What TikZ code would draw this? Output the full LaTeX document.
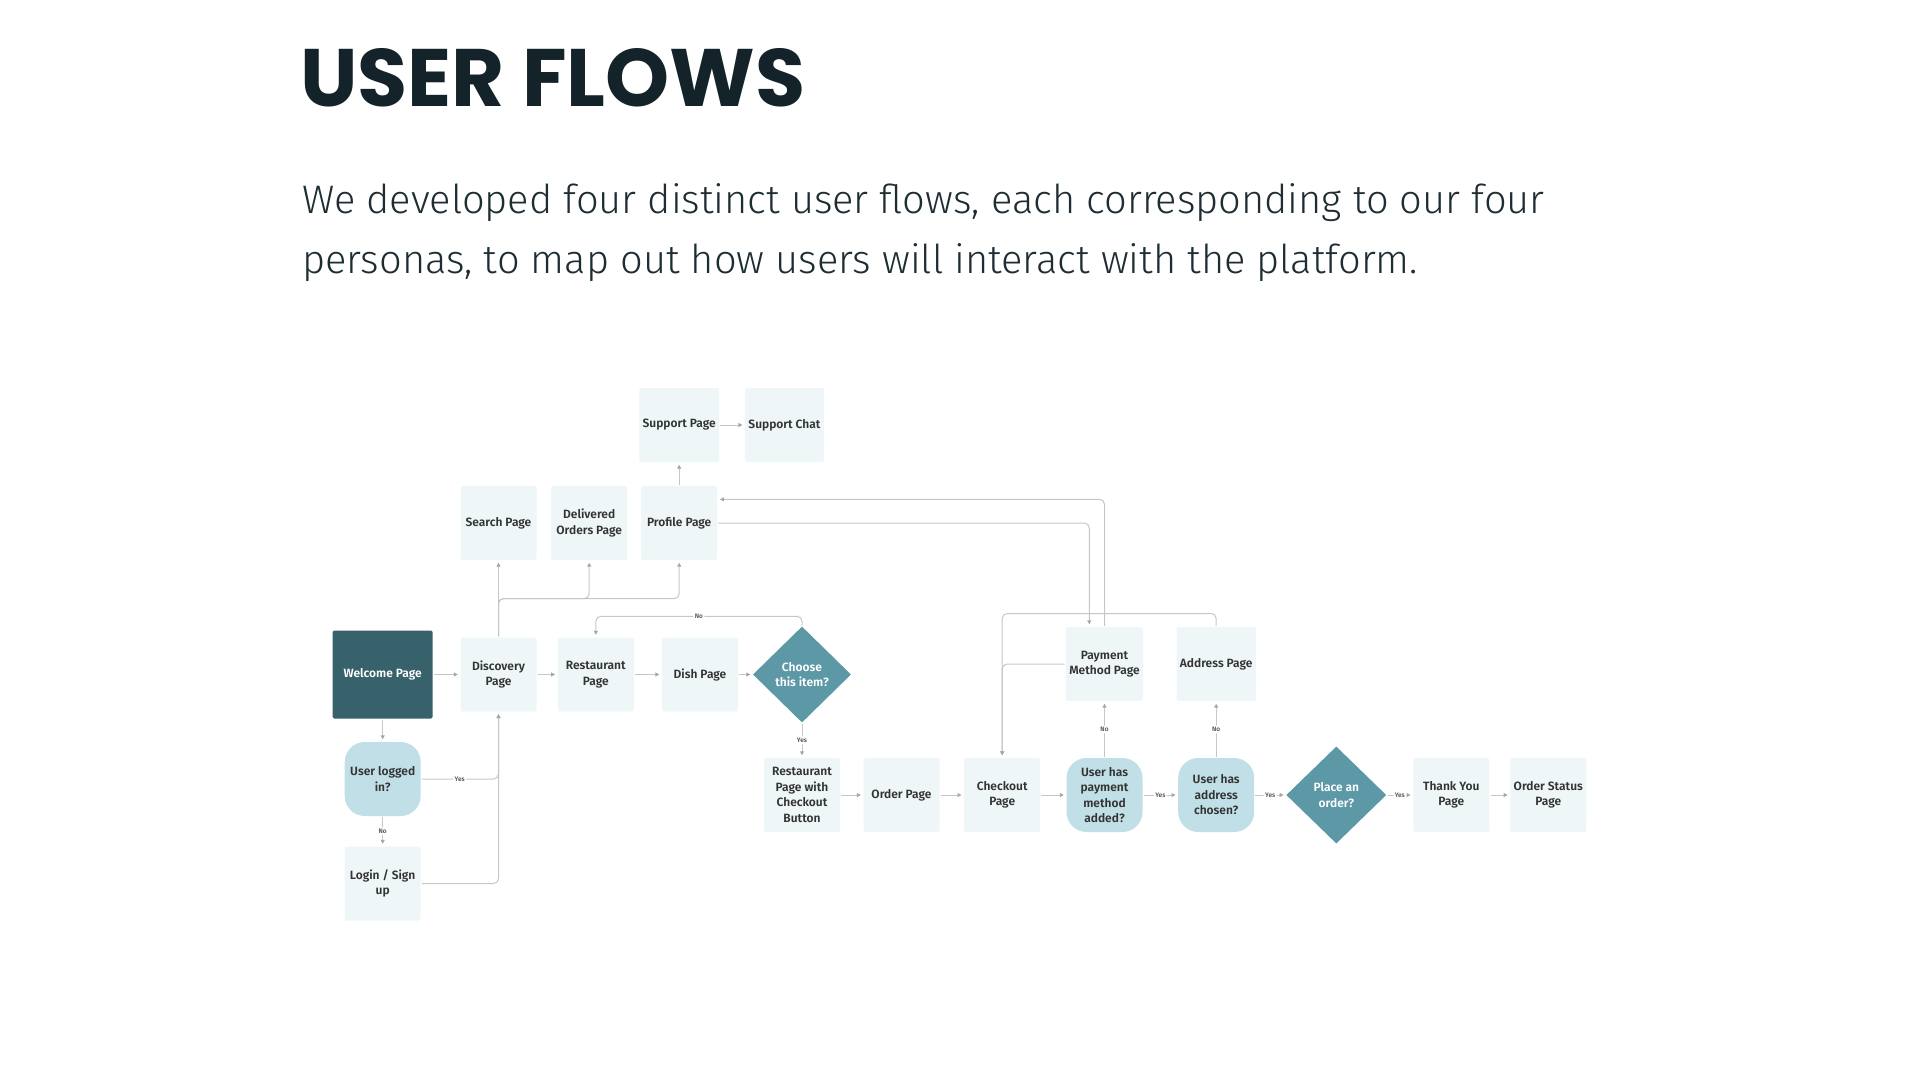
\documentclass[tikz,border=0pt]{standalone}
\usepackage{fontspec}
\setmainfont{Fira Sans}
\newfontfamily\titlefont{Poppins}
\newfontfamily\leadfont{Fira Sans Light}
\newfontfamily\boxfont{Fira Sans SemiBold}
\usetikzlibrary{shapes.geometric,arrows.meta,positioning}

\definecolor{ink}{HTML}{14232A}
\definecolor{leadink}{HTML}{1E2D33}
\definecolor{pagefill}{HTML}{EFF6F8}
\definecolor{startfill}{HTML}{37616B}
\definecolor{askfill}{HTML}{C1DFE6}
\definecolor{choicefill}{HTML}{5C98A6}
\definecolor{boxtext}{HTML}{333333}
\definecolor{wiregray}{HTML}{C6C6C6}
\definecolor{tipgray}{HTML}{A6A6A6}
\definecolor{labelgray}{HTML}{555555}

\begin{document}
\begin{tikzpicture}[x=1pt,y=-1pt,->,>={Triangle[length=4pt,width=4pt,color=tipgray]},
  shorten >=2.5pt,shorten <=1pt,on grid,node distance=100pt,
  page node/.style={rectangle,fill=pagefill,minimum width=76pt,minimum height=74pt,rounded corners=1.5pt,
    align=center,text=boxtext,font=\boxfont\fontsize{12}{15.5}\selectfont},
  start node/.style={page node,fill=startfill,text=white,minimum width=100pt,minimum height=88pt},
  ask node/.style={page node,fill=askfill,rounded corners=20pt},
  choice node/.style={diamond,aspect=1,fill=choicefill,text=white,minimum width=98pt,minimum height=96pt,
    inner sep=0pt,align=center,font=\boxfont\fontsize{12}{15.5}\selectfont},
  wire/.style={draw=wiregray,line width=1pt,rounded corners=5pt},
  yesno/.style={fill=white,inner sep=1.5pt,text=labelgray,font=\boxfont\fontsize{6.5}{7}\selectfont}]

  \useasboundingbox (0,0) rectangle (1920,1067);

  % heading
  \node[anchor=base west,inner sep=0pt,text=ink,font=\titlefont\bfseries\fontsize{81.5}{90}\selectfont] (title) at (300,106.5) {USER FLOWS};
  \node[anchor=base west,inner sep=0pt,text=leadink,font=\leadfont\fontsize{39.8}{52}\selectfont] (lead1) at (302,214)
    {We developed four distinct user flows, each corresponding to our four};
  \node[anchor=base west,inner sep=0pt,text=leadink,font=\leadfont\fontsize{39.8}{52}\selectfont] (lead2) at (302,274)
    {personas, to map out how users will interact with the platform.};

  % browsing row
  \node[start node] (welcome) at (382.7,674.5) {Welcome Page};
  \node[page node] (discovery) [right=115.8pt of welcome] {Discovery\\Page};
  \node[page node] (restaurant) [right=97.3pt of discovery] {Restaurant\\Page};
  \node[page node] (dish) [right=104.2pt of restaurant] {Dish Page};
  \node[choice node] (choose) [right=102pt of dish] {Choose\\this item?};

  % login
  \node[ask node] (logged) [below=104.5pt of welcome] {User logged\\in?};
  \node[page node] (login) [below=104.5pt of logged] {Login / Sign\\up};

  % pages above discovery
  \node[page node] (search) [above=151.5pt of discovery] {Search Page};
  \node[page node] (delivered) [right=90.7pt of search] {Delivered\\Orders Page};
  \node[page node] (profile) [right=90pt of delivered] {Profile Page};
  \node[page node] (support) [above=98pt of profile] {Support Page};
  \node[page node] (chat) [right=105.3pt of support] {Support Chat};

  % checkout row
  \node[page node] (restcheckout) [below=120.5pt of choose] {Restaurant\\Page with\\Checkout\\Button};
  \node[page node] (order) [right=99.5pt of restcheckout] {Order Page};
  \node[page node] (checkout) [right=100.7pt of order] {Checkout\\Page};
  \node[ask node] (haspay) [right=102.3pt of checkout] {User has\\payment\\method\\added?};
  \node[ask node] (hasaddr) [right=111.7pt of haspay] {User has\\address\\chosen?};
  \node[choice node,minimum width=100pt,minimum height=97pt] (place) [right=120.1pt of hasaddr] {Place an\\order?};
  \node[page node] (thanks) [right=115pt of place] {Thank You\\Page};
  \node[page node] (status) [right=97pt of thanks] {Order Status\\Page};
  \node[page node] (paymethod) [above=131pt of haspay] {Payment\\Method Page};
  \node[page node] (address) [above=131pt of hasaddr] {Address Page};

  \path[every edge/.style={wire},every node/.style={yesno}]
    (welcome) edge (discovery)
    (discovery) edge (restaurant)
    (restaurant) edge (dish)
    (dish) edge (choose)
    (welcome) edge (logged)
    (logged) edge node {No} (login)
    (choose) edge node {Yes} (restcheckout)
    (discovery) edge (search)
    (profile) edge (support)
    (support) edge (chat)
    (restcheckout) edge (order)
    (order) edge (checkout)
    (checkout) edge (haspay)
    (haspay) edge node {Yes} (hasaddr)
    (hasaddr) edge node {Yes} (place)
    (place) edge node {Yes} (thanks)
    (thanks) edge (status)
    (haspay) edge node {No} (paymethod)
    (hasaddr) edge node {No} (address);

  \draw[wire] (choose.north) -- ++(0,-10) -| (restaurant.north) node[yesno,pos=0.25] {No};
  \draw[wire] (logged.east) -| (discovery.south) node[yesno,pos=0.25] {Yes};
  \draw[wire] (login.east) -| (discovery.south);
  \draw[wire] (discovery.north) -- ++(0,-38.7) -| (delivered.south);
  \draw[wire] (discovery.north) -- ++(0,-38.7) -| (profile.south);
  \draw[wire] (profile.east) -| ([xshift=-15.2pt]paymethod.north);
  \draw[wire] (paymethod.north) |- ([yshift=23.7pt]profile.east);
  \draw[wire] (address.north) -- ++(0,-13.3) -| (checkout.north);
  \draw[wire] (paymethod.west) -| (checkout.north);
\end{tikzpicture}
\end{document}
